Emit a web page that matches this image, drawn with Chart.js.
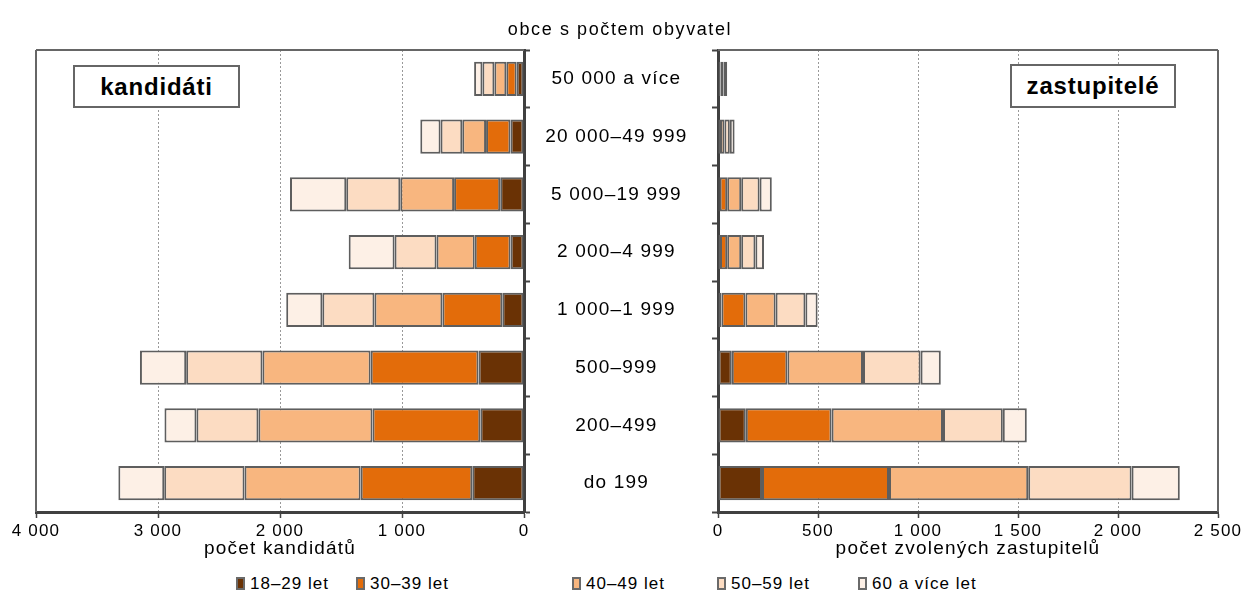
<!DOCTYPE html>
<html lang="cs">
<head>
<meta charset="utf-8">
<script src="https://cdn.jsdelivr.net/npm/chart.js@4.4.1/dist/chart.umd.min.js"></script>
<style>
  body { margin: 0; background: #fff; font-family: "Liberation Sans", Arial, sans-serif; }
  #wrap { position: relative; width: 1247px; height: 608px; overflow: hidden; background: #fff; }
  #left { position: absolute; left: 0; top: 0; }
  #right { position: absolute; left: 706px; top: 0; }
  .head { position: absolute; left: 370px; top: 19px; width: 500px; text-align: center;
          font-size: 18px; letter-spacing: 1.6px; color: #000; }
  .tag { position: absolute; box-sizing: border-box; border: 2px solid #666; background: #fff;
         font-weight: bold; font-size: 24px; letter-spacing: 0.8px; text-align: center; color: #000; }
  .leg { position: absolute; top: 574px; font-size: 17px; letter-spacing: 1px; color: #000;
         white-space: nowrap; line-height: 20px; }
  .leg i { display: inline-block; width: 9px; height: 13px; box-sizing: border-box;
           border: 2px solid #6a6a6a; margin-right: 5px; vertical-align: -1px; }
</style>
</head>
<body>
<div id="wrap">
  <canvas id="left" width="718" height="560"></canvas>
  <canvas id="right" width="541" height="560"></canvas>
  <div class="head">obce s počtem obyvatel</div>
  <div class="tag" style="left:73px;top:65px;width:167px;height:43px;line-height:39px;">kandidáti</div>
  <div class="tag" style="left:1010px;top:64px;width:166px;height:44px;line-height:40px;">zastupitelé</div>
  <div id="legend"></div>
</div>
<script>
const categories = ['50 000 a více', '20 000–49 999', '5 000–19 999', '2 000–4 999',
  '1 000–1 999', '500–999', '200–499', 'do 199'];
const ageGroups = ['18–29 let', '30–39 let', '40–49 let', '50–59 let', '60 a více let'];

// kandidáti
const cand18 = [60, 111, 195, 110, 178, 373, 358, 424];
const cand30 = [85, 200, 378, 294, 491, 884, 884, 915];
const cand40 = [98, 195, 441, 313, 557, 887, 935, 952];
const cand50 = [98, 178, 443, 344, 427, 625, 508, 658];
const cand60 = [68, 166, 461, 376, 296, 379, 262, 376];

// zastupitelé
const zast18 = [3, 2, 8, 10, 17, 69, 139, 220];
const zast30 = [10, 8, 38, 36, 120, 278, 429, 635];
const zast40 = [14, 22, 70, 70, 151, 378, 557, 696];
const zast50 = [13, 27, 92, 71, 149, 288, 299, 517];
const zast60 = [6, 24, 61, 43, 61, 101, 120, 241];

const leftTicks = ['0', '1 000', '2 000', '3 000', '4 000'];
const rightTicks = ['0', '500', '1 000', '1 500', '2 000', '2 500'];

const colors = ['#6a3205', '#e36c0a', '#f8b67f', '#fcdcc2', '#fdf0e6'];
const legendX = [236, 356, 572, 717, 858];

const spacing = {
  id: 'spacing',
  beforeDraw(chart) { chart.ctx.letterSpacing = '1.2px'; },
  afterDraw(chart) { chart.ctx.letterSpacing = '0px'; }
};

const frame = {
  id: 'frame',
  afterDraw(chart, args, opts) {
    const {ctx, chartArea: a} = chart;
    ctx.save();
    ctx.strokeStyle = '#666';
    ctx.lineWidth = 2;
    ctx.beginPath();
    ctx.moveTo(a.left, a.top);
    ctx.lineTo(a.right, a.top);
    const x = opts.side === 'left' ? a.left : a.right;
    ctx.moveTo(x, a.top);
    ctx.lineTo(x, a.bottom);
    ctx.stroke();
    ctx.restore();
  }
};

function sets(series) {
  return series.map((d, i) => ({
    label: ageGroups[i],
    data: d,
    backgroundColor: colors[i],
    borderColor: '#5e5e5e',
    borderWidth: 2,
    borderSkipped: false,
    barPercentage: 0.59,
    categoryPercentage: 1
  }));
}

function xScale(max, step, labels, title, reverse) {
  return {
    stacked: true, reverse: reverse, min: 0, max: max,
    ticks: { stepSize: step, color: '#000', font: { size: 17 }, padding: 3, maxRotation: 0,
             callback: v => labels[Math.round(v / step)] },
    grid: { color: '#999', lineWidth: 1, tickLength: 6, tickColor: '#444', tickWidth: 1.5 },
    border: { display: true, color: '#404040', width: 3, dash: [2, 2] },
    title: { display: true, text: title, color: '#000', font: { size: 19 }, padding: 0 },
    afterFit: s => { s.height = 48; }
  };
}

Chart.defaults.font.family = '"Liberation Sans", Arial, sans-serif';

new Chart(document.getElementById('left'), {
  type: 'bar',
  data: { labels: categories, datasets: sets([cand18, cand30, cand40, cand50, cand60]) },
  options: {
    indexAxis: 'y', responsive: false, animation: false,
    layout: { padding: { left: 36, top: 50, right: 0, bottom: 0 } },
    plugins: { legend: { display: false }, tooltip: { enabled: false }, frame: { side: 'left' } },
    scales: {
      x: xScale(4000, 1000, leftTicks, 'počet kandidátů', true),
      y: {
        stacked: true, position: 'right',
        ticks: { crossAlign: 'center', color: '#000', font: { size: 19 }, padding: 23 },
        grid: { drawOnChartArea: false, tickLength: 6, tickColor: '#444', tickWidth: 2 },
        border: { color: '#404040', width: 3 },
        afterFit: s => { s.width = 194; }
      }
    }
  },
  plugins: [spacing, frame]
});

new Chart(document.getElementById('right'), {
  type: 'bar',
  data: { labels: categories, datasets: sets([zast18, zast30, zast40, zast50, zast60]) },
  options: {
    indexAxis: 'y', responsive: false, animation: false,
    layout: { padding: { left: 0, top: 50, right: 29, bottom: 0 } },
    plugins: { legend: { display: false }, tooltip: { enabled: false }, frame: { side: 'right' } },
    scales: {
      x: xScale(2500, 500, rightTicks, 'počet zvolených zastupitelů', false),
      y: {
        stacked: true, position: 'left',
        ticks: { display: false },
        grid: { drawOnChartArea: false, tickLength: 6, tickColor: '#444', tickWidth: 2 },
        border: { color: '#404040', width: 3 },
        afterFit: s => { s.width = 12; }
      }
    }
  },
  plugins: [spacing, frame]
});

const legend = document.getElementById('legend');
ageGroups.forEach((g, i) => {
  const el = document.createElement('div');
  el.className = 'leg';
  el.style.left = legendX[i] + 'px';
  el.innerHTML = '<i style="background:' + colors[i] + '"></i>' + g;
  legend.appendChild(el);
});
</script>
</body>
</html>
